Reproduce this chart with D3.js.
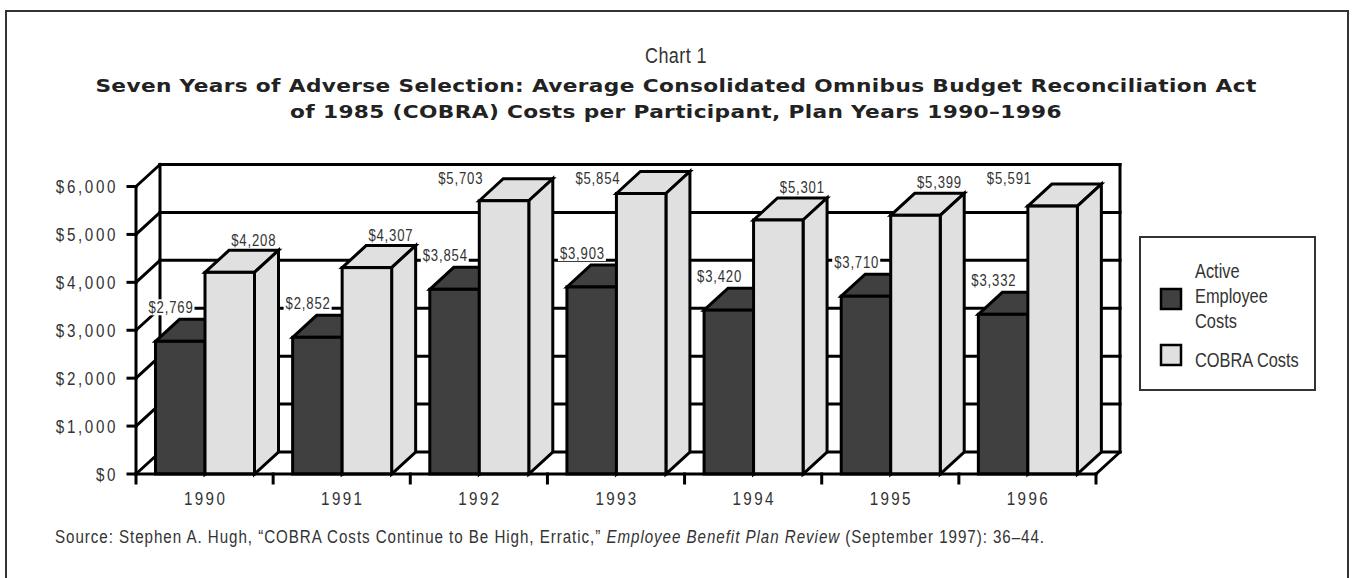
<!DOCTYPE html>
<html><head><meta charset="utf-8">
<script src="https://cdn.jsdelivr.net/npm/d3@7"></script>
<style>body{margin:0;background:#fff}svg{display:block}</style>
</head><body>
<svg id="chart" width="1353" height="578"></svg>
<script>
// ---- data ----
const years = ["1990", "1991", "1992", "1993", "1994", "1995", "1996"];
const activeCosts = [2769, 2852, 3854, 3903, 3420, 3710, 3332];
const cobraCosts = [4208, 4307, 5703, 5854, 5301, 5399, 5591];
const seriesNames = ["Active Employee Costs", "COBRA Costs"];
const legendLines = [["Active", "Employee", "Costs"], ["COBRA Costs"]];
const yTicks = [0, 1000, 2000, 3000, 4000, 5000, 6000];
const chartLabel = "Chart 1";
const titleLines = [
  "Seven Years of Adverse Selection: Average Consolidated Omnibus Budget Reconciliation Act",
  "of 1985 (COBRA) Costs per Participant, Plan Years 1990\u20131996"
];
const sourceParts = [
  {t: "Source: Stephen A. Hugh, \u201cCOBRA Costs Continue to Be High, Erratic,\u201d ", it: false},
  {t: "Employee Benefit Plan Review", it: true},
  {t: " (September 1997): 36\u201344.", it: false}
];

// ---- layout ----
const SANS = "'Liberation Sans',Arial,sans-serif";
const SX = 0.82; // horizontal condensing to mimic a narrow face
const svg = d3.select("#chart");
const colors = ["#404040", "#e0e0e0"];
const DX = 24, DY = 22;
const x = d3.scaleBand().domain(years).range([136, 1096]);
const xs = d3.scaleBand().domain([0, 1]).range([19.5, 118.5]);
const y = d3.scaleLinear().domain([0, 6000]).range([474, 186.5]);
const fmt = d3.format("$,");

function ntext(parent, X, Y, txt, size, anchor, ls) {
  const o = parent.append("g");
  const t = o.append("g").attr("transform", `translate(${X},${Y}) scale(${SX},1)`).append("text")
    .attr("text-anchor", anchor).style("font-family", SANS).style("font-size", size + "px")
    .attr("letter-spacing", ls).attr("fill", "#333");
  if (txt !== null) t.text(txt);
  return {o, t};
}

// frame
svg.append("rect").attr("x", 6).attr("y", 11).attr("width", 1342).attr("height", 600)
  .attr("fill", "none").attr("stroke", "#333").attr("stroke-width", 2);

// titles
ntext(svg, 676, 63, chartLabel, 22, "middle", 0.5);
const tg1 = svg.append("g"), tg2 = svg.append("g");
const t1 = tg1.append("text").attr("text-anchor", "middle")
  .style("font-family", "'DejaVu Sans',sans-serif").style("font-weight", "bold").style("font-size", "18.5px")
  .attr("letter-spacing", 0.3).attr("fill", "#222").text(titleLines[0]);
const t2 = tg2.append("text").attr("text-anchor", "middle")
  .style("font-family", "'DejaVu Sans',sans-serif").style("font-weight", "bold").style("font-size", "18.5px")
  .attr("letter-spacing", 0.3).attr("fill", "#222").text(titleLines[1]);
const ts = 1162 / t1.node().getComputedTextLength();
tg1.attr("transform", `translate(676,92) scale(${ts},1)`);
tg2.attr("transform", `translate(676,118) scale(${ts},1)`);

const g = svg.append("g").attr("stroke", "#000").attr("stroke-width", 3).attr("fill", "none")
  .attr("stroke-linejoin", "miter").attr("stroke-linecap", "square");
const x0 = x.range()[0], x1 = x.range()[1];
const yMin = y(0), yMax = y(6000);

// back wall gridlines + left wall diagonals
yTicks.forEach(v => {
  g.append("line").attr("x1", x0 + DX).attr("x2", x1 + DX).attr("y1", y(v) - DY).attr("y2", y(v) - DY);
  g.append("line").attr("x1", x0).attr("x2", x0 + DX).attr("y1", y(v)).attr("y2", y(v) - DY);
});
g.append("line").attr("x1", x0 + DX).attr("x2", x0 + DX).attr("y1", yMin - DY).attr("y2", yMax - DY);
g.append("line").attr("x1", x1 + DX).attr("x2", x1 + DX).attr("y1", yMin - DY).attr("y2", yMax - DY);
g.append("line").attr("x1", x1).attr("x2", x1 + DX).attr("y1", yMin).attr("y2", yMin - DY);

// bars
function bar(parent, left, w, v, fill) {
  const top = y(v), base = y(0);
  const b = parent.append("g").attr("fill", fill);
  b.append("path").attr("d", `M${left},${top}L${left + DX},${top - DY}L${left + w + DX},${top - DY}L${left + w},${top}Z`);
  b.append("path").attr("d", `M${left + w},${top}L${left + w + DX},${top - DY}L${left + w + DX},${base - DY}L${left + w},${base}Z`);
  b.append("rect").attr("x", left).attr("y", top).attr("width", w).attr("height", base - top);
}
years.forEach((yr, i) => {
  bar(g, x(yr) + xs(0), xs.bandwidth(), activeCosts[i], colors[0]);
  bar(g, x(yr) + xs(1), xs.bandwidth(), cobraCosts[i], colors[1]);
});

// front axis lines and ticks
g.append("line").attr("x1", x0).attr("x2", x0).attr("y1", yMin).attr("y2", yMax);
g.append("line").attr("x1", x0).attr("x2", x1).attr("y1", yMin).attr("y2", yMin);
yTicks.forEach(v => g.append("line").attr("x1", x0 - 8).attr("x2", x0).attr("y1", y(v)).attr("y2", y(v)));
d3.range(years.length + 1).forEach(k => {
  const xx = x0 + k * x.step();
  g.append("line").attr("x1", xx).attr("x2", xx).attr("y1", yMin).attr("y2", yMin + 9);
});

// axis labels
const yl = svg.append("g");
yTicks.forEach(v => ntext(yl, 118, y(v) + 6.5, fmt(v), 18.5, "end", 3.2));
const xl = svg.append("g");
years.forEach(d => ntext(xl, x(d) + x.bandwidth() / 2 + 1, 505, d, 18.5, "middle", 2.9));

// value labels with white backgrounds
const lab = svg.append("g");
function valueLabel(txt, ax, cy, anchor) {
  const {o} = ntext(lab, ax, cy + 5.7, txt, 16, anchor, 1);
  const bb = o.node().getBBox();
  lab.insert("rect", () => o.node()).attr("x", bb.x - 2).attr("y", cy - 8).attr("width", bb.width + 3)
    .attr("height", 16).attr("fill", "#fff");
}
const wallTop = yMax - DY;
years.forEach((yr, i) => {
  const dl = x(yr) + xs(0);
  valueLabel(fmt(activeCosts[i]), dl + 38, y(activeCosts[i]) - DY - 12, "end");
  const ll = x(yr) + xs(1);
  const cy = y(cobraCosts[i]) - DY - 10.5;
  if (cy < wallTop + 13) valueLabel(fmt(cobraCosts[i]), ll + DX - 20, wallTop + 14, "end");
  else valueLabel(fmt(cobraCosts[i]), ll + DX + xs.bandwidth() / 2, cy, "middle");
});

// legend
const lg = svg.append("g");
lg.append("rect").attr("x", 1140).attr("y", 237).attr("width", 175).attr("height", 153)
  .attr("fill", "#fff").attr("stroke", "#333").attr("stroke-width", 2);
const swY = [289, 345];
const txtY = [[278, 303, 328], [367]];
seriesNames.forEach((s, i) => {
  lg.append("rect").attr("x", 1161).attr("y", swY[i]).attr("width", 20).attr("height", 20)
    .attr("fill", colors[i]).attr("stroke", "#000").attr("stroke-width", 2.5);
  legendLines[i].forEach((ln, j) => ntext(lg, 1195, txtY[i][j], ln, 20, "start", 0));
});

// source
const {t: src} = ntext(svg, 55, 543, null, 18.5, "start", 0);
sourceParts.forEach(p => src.append("tspan").style("font-style", p.it ? "italic" : "normal").text(p.t));
const sw = src.node().getComputedTextLength();
const totalChars = sourceParts.map(p => p.t).join("").length;
src.attr("letter-spacing", (990 / SX - sw) / totalChars);
</script>
</body></html>
